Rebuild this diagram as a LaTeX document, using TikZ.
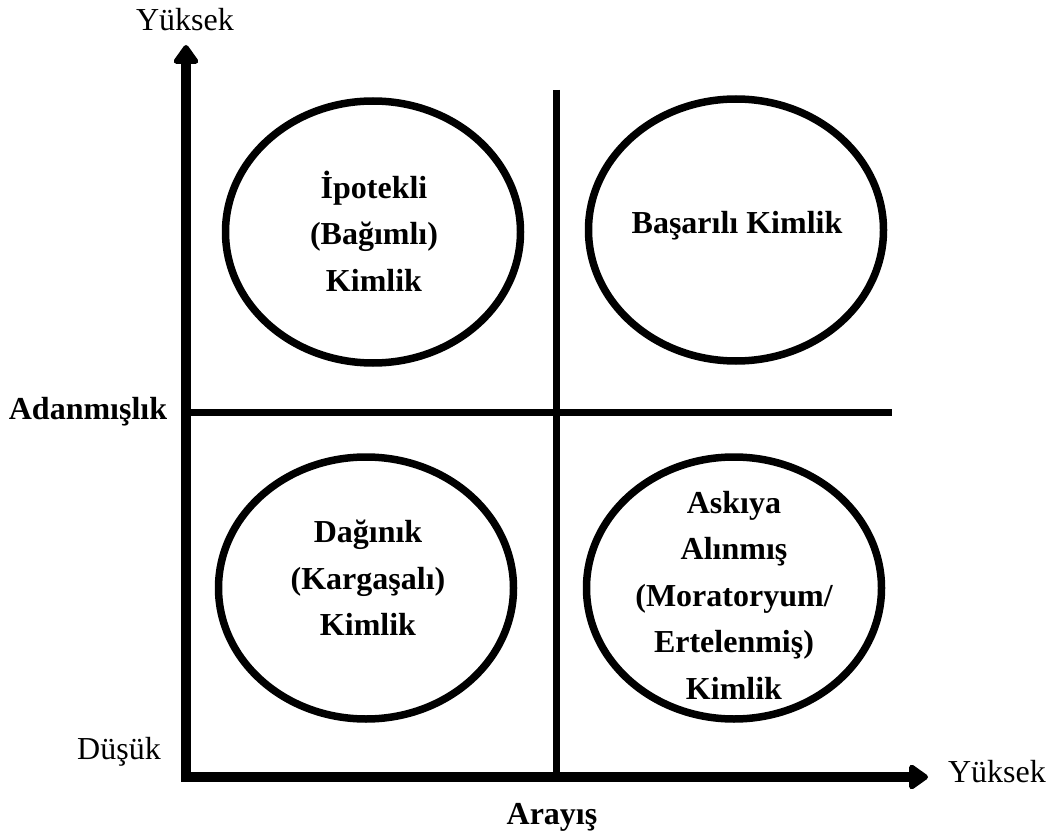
\documentclass[tikz,border=0pt]{standalone}
\usepackage{fontspec}
\setmainfont{Liberation Serif}
\usetikzlibrary{arrows.meta,shapes.geometric}
\tikzset{
  axisline/.style={line width=10pt,-{Triangle[round,width=28pt,length=21pt]}},
  midline/.style={line width=7pt},
  blob/.style={draw,ellipse,line width=7.5pt,minimum width=295pt,minimum height=262pt,inner sep=0pt},
  lbl/.style={font=\fontsize{32}{46.5}\selectfont\bfseries,align=center,inner sep=0pt},
  plain/.style={font=\fontsize{32}{36}\selectfont,inner sep=0pt},
  bold/.style={font=\fontsize{32}{36}\selectfont\bfseries,inner sep=0pt},
}
\begin{document}
\begin{tikzpicture}[x=1pt,y=-1pt]
\useasboundingbox (0,0) rectangle (1050,837);
\coordinate (ytip) at (186,45);
\coordinate (ybase) at (186,781);
\coordinate (xtip) at (928,777);
\coordinate (oorig) at (181,777);
\coordinate (mtop) at (556,90);
\coordinate (mbot) at (556,777);
\coordinate (hl) at (186,412);
\coordinate (hr) at (892,412);
\draw[midline] (mtop) -- (mbot);
\draw[midline] (hl) -- (hr);
\draw[axisline] (ybase) -- (ytip);
\draw[axisline] (oorig) -- (xtip);
\node[blob] (c1) at (373,232) {};
\node[blob] (c2) at (736,230) {};
\node[blob] (c3) at (366,588) {};
\node[blob] (c4) at (734,588) {};
\node[lbl] (t1) at (374,231) {İpotekli\\(Bağımlı)\\Kimlik};
\node[lbl] (t2) at (737,226) {Başarılı Kimlik};
\node[lbl] (t3) at (368,578) {Dağınık\\(Kargaşalı)\\Kimlik};
\node[lbl] (t4) at (734,595) {Askıya\\Alınmış\\(Moratoryum/\\Ertelenmiş)\\Kimlik};
\node[plain] (ytop) at (185,20) {Yüksek};
\node[plain] (yright) at (997,772) {Yüksek};
\node[plain] (dusuk) at (119,752) {Düşük};
\node[bold] (adan) at (88,412) {Adanmışlık};
\node[bold] (aray) at (552,817) {Arayış};
\end{tikzpicture}
\end{document}
